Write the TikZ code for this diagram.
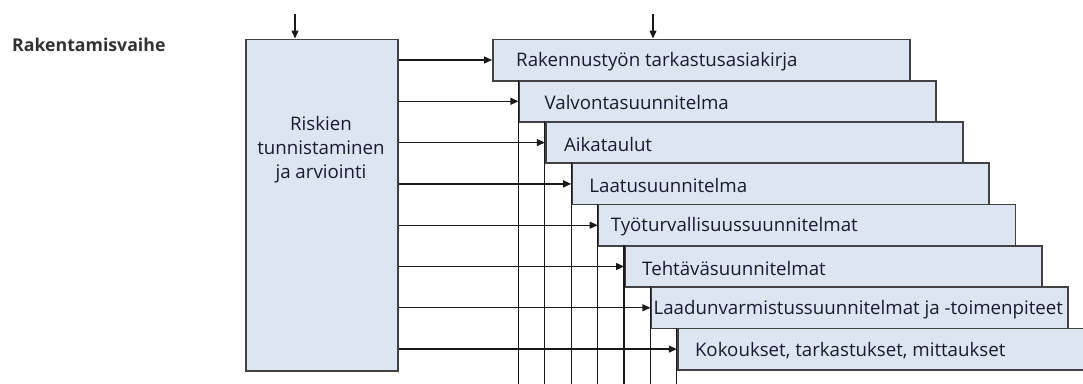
\documentclass[tikz,border=0pt]{standalone}
\usepackage{fontspec}
\setmainfont{Open Sans}
\usetikzlibrary{arrows.meta}
\definecolor{boxfill}{RGB}{221,229,242}
\definecolor{boxline}{RGB}{66,66,66}
\definecolor{txt}{RGB}{26,26,48}
\definecolor{ttl}{RGB}{50,50,50}
\tikzset{
  stagebox/.style={draw=boxline, fill=boxfill, line width=1.7pt, inner sep=0pt,
    minimum width=417pt, minimum height=41.3pt, anchor=north west},
  lbl/.style={text=txt, font=\fontsize{18.7}{22}\selectfont, inner sep=0pt, anchor=west, yshift=-1.5pt},
  conn/.style={draw=black!90, line width=1.3pt},
  arr/.style={conn, -{Triangle[length=8pt,width=7pt]}},
}
\begin{document}
\begin{tikzpicture}[x={(1pt,0)}, y={(0,-1pt)}]
\useasboundingbox (0,0) rectangle (1083,383);
\clip (0,0) rectangle (1083,383);
\coordinate (bot) at (0,384);
\node[text=ttl, font=\bfseries\fontsize{17.7}{20}\selectfont, anchor=west, inner sep=0pt] (title) at (12,45) {Rakentamisvaihe};
\node[draw=boxline, fill=boxfill, line width=1.7pt, minimum width=152pt, minimum height=331.5pt, anchor=north west, inner sep=0pt] (risk) at (245,38.5) {};
\node[text=txt, font=\fontsize{18.7}{24}\selectfont, align=center, inner sep=0pt] (risktxt) at (321,150) {Riskien\\tunnistaminen\\ja arviointi};
% stage boxes
\node[stagebox] (b0) at (492,38.5) {};
\node[stagebox] (b1) at (518.4,79.8) {};
\node[stagebox] (b2) at (544.8,121.1) {};
\node[stagebox] (b3) at (571.2,162.4) {};
\node[stagebox] (b4) at (597.6,203.7) {};
\node[stagebox] (b5) at (624,245) {};
\node[stagebox] (b6) at (650.4,286.3) {};
\node[stagebox] (b7) at (676.8,327.6) {};
% vertical continuation lines
\foreach \i in {1,...,7} {
  \draw[conn] (b\i.north west) -- (b\i.north west |- bot);
}
% labels
\node[lbl] (l0) at ([xshift=24pt]b0.west) {Rakennustyön tarkastusasiakirja};
\node[lbl] (l1) at ([xshift=26pt]b1.west) {Valvontasuunnitelma};
\node[lbl] (l2) at ([xshift=19pt]b2.west) {Aikataulut};
\node[lbl] (l3) at ([xshift=18pt]b3.west) {Laatusuunnitelma};
\node[lbl] (l4) at ([xshift=13pt]b4.west) {Työturvallisuussuunnitelmat};
\node[lbl] (l5) at ([xshift=18pt]b5.west) {Tehtäväsuunnitelmat};
\node[lbl] (l6) at ([xshift=3pt]b6.west) {Laadunvarmistussuunnitelmat ja -toimenpiteet};
\node[lbl] (l7) at ([xshift=18pt]b7.west) {Kokoukset, tarkastukset, mittaukset};
% arrows from risk box
\foreach \i in {0,...,7} {
  \draw[arr] (b\i.west -| risk.east) -- (b\i.west);
}
% top arrows
\coordinate (t1) at (295,14);
\coordinate (t2) at (653,14);
\draw[arr] (t1) -- (t1 |- risk.north);
\draw[arr] (t2) -- (t2 |- b0.north);
\end{tikzpicture}
\end{document}
